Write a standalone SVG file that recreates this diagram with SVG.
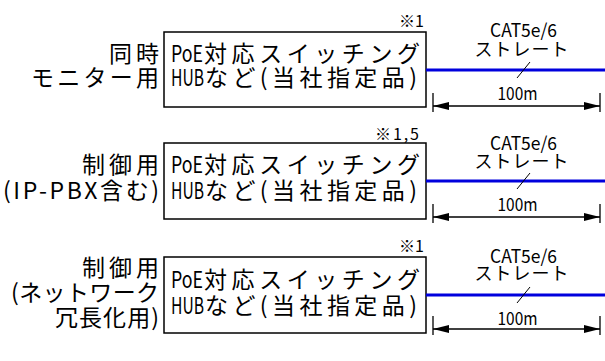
<svg xmlns="http://www.w3.org/2000/svg" width="605" height="361" viewBox="0 0 605 361">
<style>
text{font-family:"Noto Sans CJK JP","Noto Sans",sans-serif;fill:#000}
.lab{font-size:23px;text-anchor:end}
.box{fill:#fff;stroke:#000;stroke-width:1.5}
.bt{font-size:23px}
.fn{font-size:16px;text-anchor:end}
.cl{font-size:18px;text-anchor:middle}
.blue{stroke:#0000dd;stroke-width:3;fill:none}
.dim{stroke:#000;stroke-width:1.3;fill:none}
.sl{stroke:#000;stroke-width:1;fill:none}
</style>
<defs>
<marker id="ah" viewBox="0 0 16 8" refX="16" refY="4" markerWidth="16" markerHeight="8" markerUnits="userSpaceOnUse" orient="auto-start-reverse"><path d="M0,0 L16,4 L0,8 z" fill="#000"/></marker>
</defs>

<g id="label1">
<text class="lab"><tspan x="159" y="61.5" textLength="50" lengthAdjust="spacing">同時</tspan><tspan x="159" y="85.5" textLength="128" lengthAdjust="spacing">モニター用</tspan></text>
</g>
<g id="label2">
<text class="lab"><tspan x="159" y="173" textLength="77" lengthAdjust="spacing">制御用</tspan><tspan x="159" y="199" textLength="156" lengthAdjust="spacing">(IP-PBX含む)</tspan></text>
</g>
<g id="label3">
<text class="lab"><tspan x="159" y="276" textLength="77" lengthAdjust="spacing">制御用</tspan><tspan x="159" y="300.5" textLength="148" lengthAdjust="spacing">(ネットワーク</tspan><tspan x="159" y="326" textLength="104" lengthAdjust="spacing">冗長化用)</tspan></text>
</g>

<g id="switch1">
<rect class="box" x="164" y="32" width="262" height="75"/>
<text class="bt"><tspan x="171" y="61.5" textLength="32" lengthAdjust="spacingAndGlyphs">PoE</tspan><tspan x="204" y="61.5" textLength="216" lengthAdjust="spacing">対応スイッチング</tspan></text>
<text class="bt"><tspan x="171" y="85.5" textLength="33" lengthAdjust="spacingAndGlyphs">HUB</tspan><tspan x="205" y="85.5" textLength="212" lengthAdjust="spacing">など(当社指定品)</tspan></text>
<text class="fn" x="424" y="27">※1</text>
</g>
<g id="switch2">
<rect class="box" x="164" y="143" width="262" height="76"/>
<text class="bt"><tspan x="171" y="173" textLength="32" lengthAdjust="spacingAndGlyphs">PoE</tspan><tspan x="204" y="173" textLength="216" lengthAdjust="spacing">対応スイッチング</tspan></text>
<text class="bt"><tspan x="171" y="199" textLength="33" lengthAdjust="spacingAndGlyphs">HUB</tspan><tspan x="205" y="199" textLength="212" lengthAdjust="spacing">など(当社指定品)</tspan></text>
<text class="fn" x="419" y="140" textLength="44" lengthAdjust="spacing">※1,5</text>
</g>
<g id="switch3">
<rect class="box" x="164" y="257" width="262" height="76"/>
<text class="bt"><tspan x="171" y="288" textLength="32" lengthAdjust="spacingAndGlyphs">PoE</tspan><tspan x="204" y="288" textLength="216" lengthAdjust="spacing">対応スイッチング</tspan></text>
<text class="bt"><tspan x="171" y="314" textLength="33" lengthAdjust="spacingAndGlyphs">HUB</tspan><tspan x="205" y="314" textLength="212" lengthAdjust="spacing">など(当社指定品)</tspan></text>
<text class="fn" x="424" y="252">※1</text>
</g>

<g id="cable-labels">
<g transform="translate(0,0)">
<text class="cl"><tspan x="523.5" y="37" textLength="67" lengthAdjust="spacingAndGlyphs">CAT5e/6</tspan><tspan x="521.5" y="56" textLength="94" lengthAdjust="spacing">ストレート</tspan></text>
<text class="cl" x="517.5" y="100" textLength="40" lengthAdjust="spacingAndGlyphs">100m</text>
</g>
<g transform="translate(0,111)">
<text class="cl"><tspan x="523.5" y="39" textLength="67" lengthAdjust="spacingAndGlyphs">CAT5e/6</tspan><tspan x="521.5" y="57" textLength="94" lengthAdjust="spacing">ストレート</tspan></text>
<text class="cl" x="517.5" y="100" textLength="40" lengthAdjust="spacingAndGlyphs">100m</text>
</g>
<g transform="translate(0,225)">
<text class="cl"><tspan x="523.5" y="38" textLength="67" lengthAdjust="spacingAndGlyphs">CAT5e/6</tspan><tspan x="521.5" y="55" textLength="94" lengthAdjust="spacing">ストレート</tspan></text>
<text class="cl" x="517.5" y="100" textLength="40" lengthAdjust="spacingAndGlyphs">100m</text>
</g>
</g>

<g id="connectors">
<g transform="translate(0,0)">
<line class="blue" x1="426" y1="70" x2="605" y2="70"/>
<line class="sl" x1="530" y1="62" x2="517" y2="78"/>
<line class="dim" x1="433" y1="93" x2="433" y2="112"/>
<line class="dim" x1="600" y1="93" x2="600" y2="112"/>
<line class="dim" x1="433" y1="106" x2="600" y2="106" marker-start="url(#ah)" marker-end="url(#ah)"/>
</g>
<g transform="translate(0,111)">
<line class="blue" x1="426" y1="70" x2="605" y2="70"/>
<line class="sl" x1="530" y1="62" x2="517" y2="78"/>
<line class="dim" x1="433" y1="93" x2="433" y2="112"/>
<line class="dim" x1="600" y1="93" x2="600" y2="112"/>
<line class="dim" x1="433" y1="106" x2="600" y2="106" marker-start="url(#ah)" marker-end="url(#ah)"/>
</g>
<g transform="translate(0,225)">
<line class="blue" x1="426" y1="70" x2="605" y2="70"/>
<line class="sl" x1="530" y1="62" x2="517" y2="78"/>
<line class="dim" x1="433" y1="91" x2="433" y2="110"/>
<line class="dim" x1="600" y1="91" x2="600" y2="110"/>
<line class="dim" x1="433" y1="104" x2="600" y2="104" marker-start="url(#ah)" marker-end="url(#ah)"/>
</g>
</g>
</svg>
